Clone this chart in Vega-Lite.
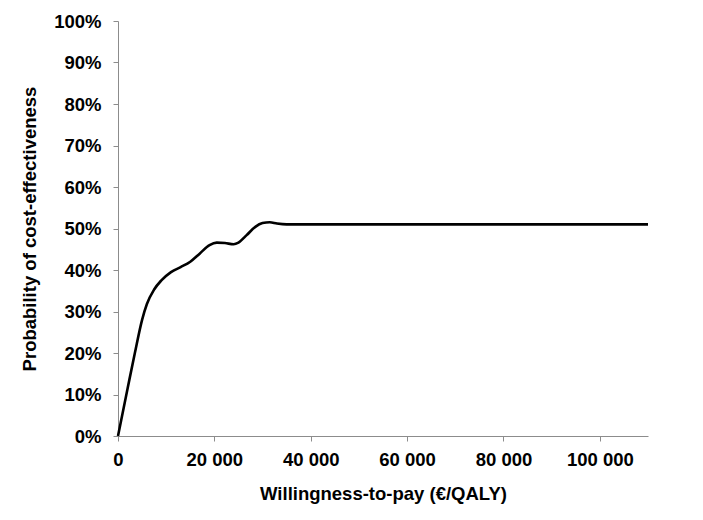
{
  "$schema": "https://vega.github.io/schema/vega-lite/v6.json",
  "width": 530,
  "height": 415,
  "autosize": "none",
  "padding": {"left": 118, "top": 21, "right": 55, "bottom": 84},
  "background": "white",
  "config": {
    "view": {"stroke": null},
    "axis": {
      "labelFont": "Liberation Sans",
      "labelFontWeight": "bold",
      "labelFontSize": 18.5,
      "labelColor": "black",
      "titleFont": "Liberation Sans",
      "titleFontWeight": "bold",
      "titleFontSize": 18.5,
      "titleColor": "black",
      "domainColor": "#8c8c8c",
      "tickColor": "#8c8c8c",
      "tickSize": 5,
      "grid": false
    }
  },
  "data": {
    "values": [
      {"wtp": 0, "p": 0.0},
      {"wtp": 2000, "p": 0.115},
      {"wtp": 3500, "p": 0.20},
      {"wtp": 5000, "p": 0.28},
      {"wtp": 6000, "p": 0.318},
      {"wtp": 7500, "p": 0.353},
      {"wtp": 9000, "p": 0.375},
      {"wtp": 11000, "p": 0.395},
      {"wtp": 13000, "p": 0.407},
      {"wtp": 15000, "p": 0.42},
      {"wtp": 17000, "p": 0.44},
      {"wtp": 19000, "p": 0.46},
      {"wtp": 20500, "p": 0.466},
      {"wtp": 22200, "p": 0.465},
      {"wtp": 24000, "p": 0.462},
      {"wtp": 25000, "p": 0.466},
      {"wtp": 26700, "p": 0.484},
      {"wtp": 28500, "p": 0.504},
      {"wtp": 30000, "p": 0.513},
      {"wtp": 31500, "p": 0.515},
      {"wtp": 33000, "p": 0.512},
      {"wtp": 35000, "p": 0.51},
      {"wtp": 40000, "p": 0.51},
      {"wtp": 60000, "p": 0.51},
      {"wtp": 80000, "p": 0.51},
      {"wtp": 100000, "p": 0.51},
      {"wtp": 110000, "p": 0.51}
    ]
  },
  "mark": {"type": "line", "color": "black", "strokeWidth": 2.6, "interpolate": "monotone"},
  "encoding": {
    "x": {
      "field": "wtp",
      "type": "quantitative",
      "scale": {"domain": [0, 110000], "nice": false, "zero": true},
      "axis": {"values": [0, 20000, 40000, 60000, 80000, 100000], "labelExpr": "replace(format(datum.value, ',d'), regexp(',', 'g'), ' ')", "title": "Willingness-to-pay (€/QALY)", "labelPadding": 9, "titlePadding": 16, "labelFlush": false}
    },
    "y": {
      "field": "p",
      "type": "quantitative",
      "scale": {"domain": [0, 1], "nice": false},
      "axis": {"values": [0, 0.1, 0.2, 0.3, 0.4, 0.5, 0.6, 0.7, 0.8, 0.9, 1], "format": ".0%", "title": "Probability of cost-effectiveness", "labelPadding": 12, "titlePadding": 14, "labelFlush": false}
    }
  }
}
